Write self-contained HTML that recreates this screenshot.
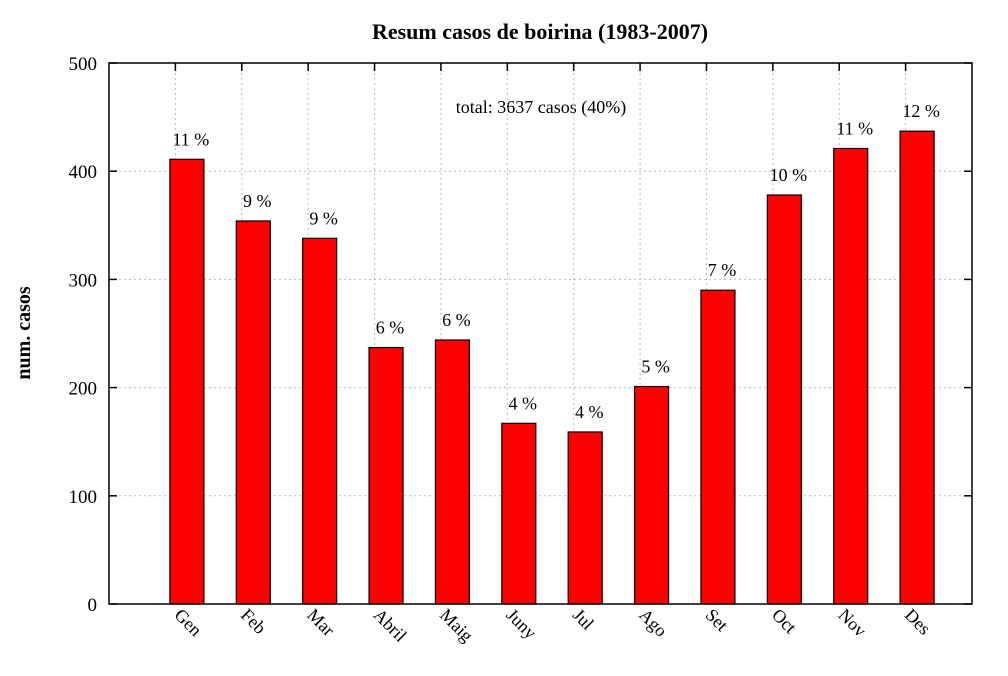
<!DOCTYPE html>
<html><head><meta charset="utf-8"><style>
body{margin:0;background:#fff}
svg text{font-family:"Liberation Serif",serif;fill:#000}
</style></head><body>
<svg id="chart" width="1008" height="671" viewBox="0 0 1008 671" xmlns="http://www.w3.org/2000/svg">
<text x="540" y="39" text-anchor="middle" font-size="22" font-weight="bold">Resum casos de boirina (1983-2007)</text>
<text transform="translate(30,333) rotate(-90)" text-anchor="middle" font-size="20" font-weight="bold">num. casos</text>
<text x="541" y="113" text-anchor="middle" font-size="18">total: 3637 casos (40%)</text>
<g id="grid"></g><g id="bars"></g><g id="labels"></g>
<rect x="109" y="63" width="863" height="541" fill="none" stroke="#000" stroke-width="1.5"/>
<g id="ticks"></g>
</svg>
<script>
const categories=["Gen","Feb","Mar","Abril","Maig","Juny","Jul","Ago","Set","Oct","Nov","Des"];
const values=[411,354,338,237,244,167,159,201,290,378,421,437];
const pctLabels=["11 %","9 %","9 %","6 %","6 %","4 %","4 %","5 %","7 %","10 %","11 %","12 %"];
const yTicks=[0,100,200,300,400,500];
const L=109,R=972,T=63,B=604,NS="http://www.w3.org/2000/svg";
const y=v=>B-(v/500)*(B-T);
const xt=i=>L+(i+1)*(R-L)/13;
function mk(tag,attrs,parent){const e=document.createElementNS(NS,tag);for(const k in attrs)e.setAttribute(k,attrs[k]);document.getElementById(parent).appendChild(e);return e;}
yTicks.forEach(t=>{
 if(t>0&&t<500){const g=mk('line',{x1:L,x2:R,y1:y(t),y2:y(t),stroke:'#bbb','stroke-dasharray':'2,3'},'grid');}
 const a=mk('line',{x1:L,x2:L+8,y1:y(t),y2:y(t),stroke:'#000','stroke-width':1.5},'ticks');
 const b=mk('line',{x1:R-8,x2:R,y1:y(t),y2:y(t),stroke:'#000','stroke-width':1.5},'ticks');
 const tx=mk('text',{x:L-12,y:y(t)+7,'text-anchor':'end','font-size':19},'ticks');tx.textContent=t;
});
categories.forEach((c,i)=>{
 const X=xt(i);
 const g=mk('line',{x1:X,x2:X,y1:T,y2:B,stroke:'#bbb','stroke-dasharray':'2,3'},'grid');
 const tk=mk('line',{x1:X,x2:X,y1:T,y2:T+8,stroke:'#000','stroke-width':1.5},'ticks');
 const bx=X+11.5;
 const r=mk('rect',{x:bx-17,y:y(values[i]),width:34,height:B-y(values[i]),fill:'#f00',stroke:'#000','stroke-width':1.2},'bars');
 
 const p=mk('text',{x:bx+4,y:y(values[i])-14,'text-anchor':'middle','font-size':18},'labels');p.textContent=pctLabels[i];
 
 const xl=mk('text',{transform:`translate(${X-2},${B+12}) rotate(45)`,'font-size':18},'ticks');xl.textContent=c;
 
});
</script>
</body></html>
